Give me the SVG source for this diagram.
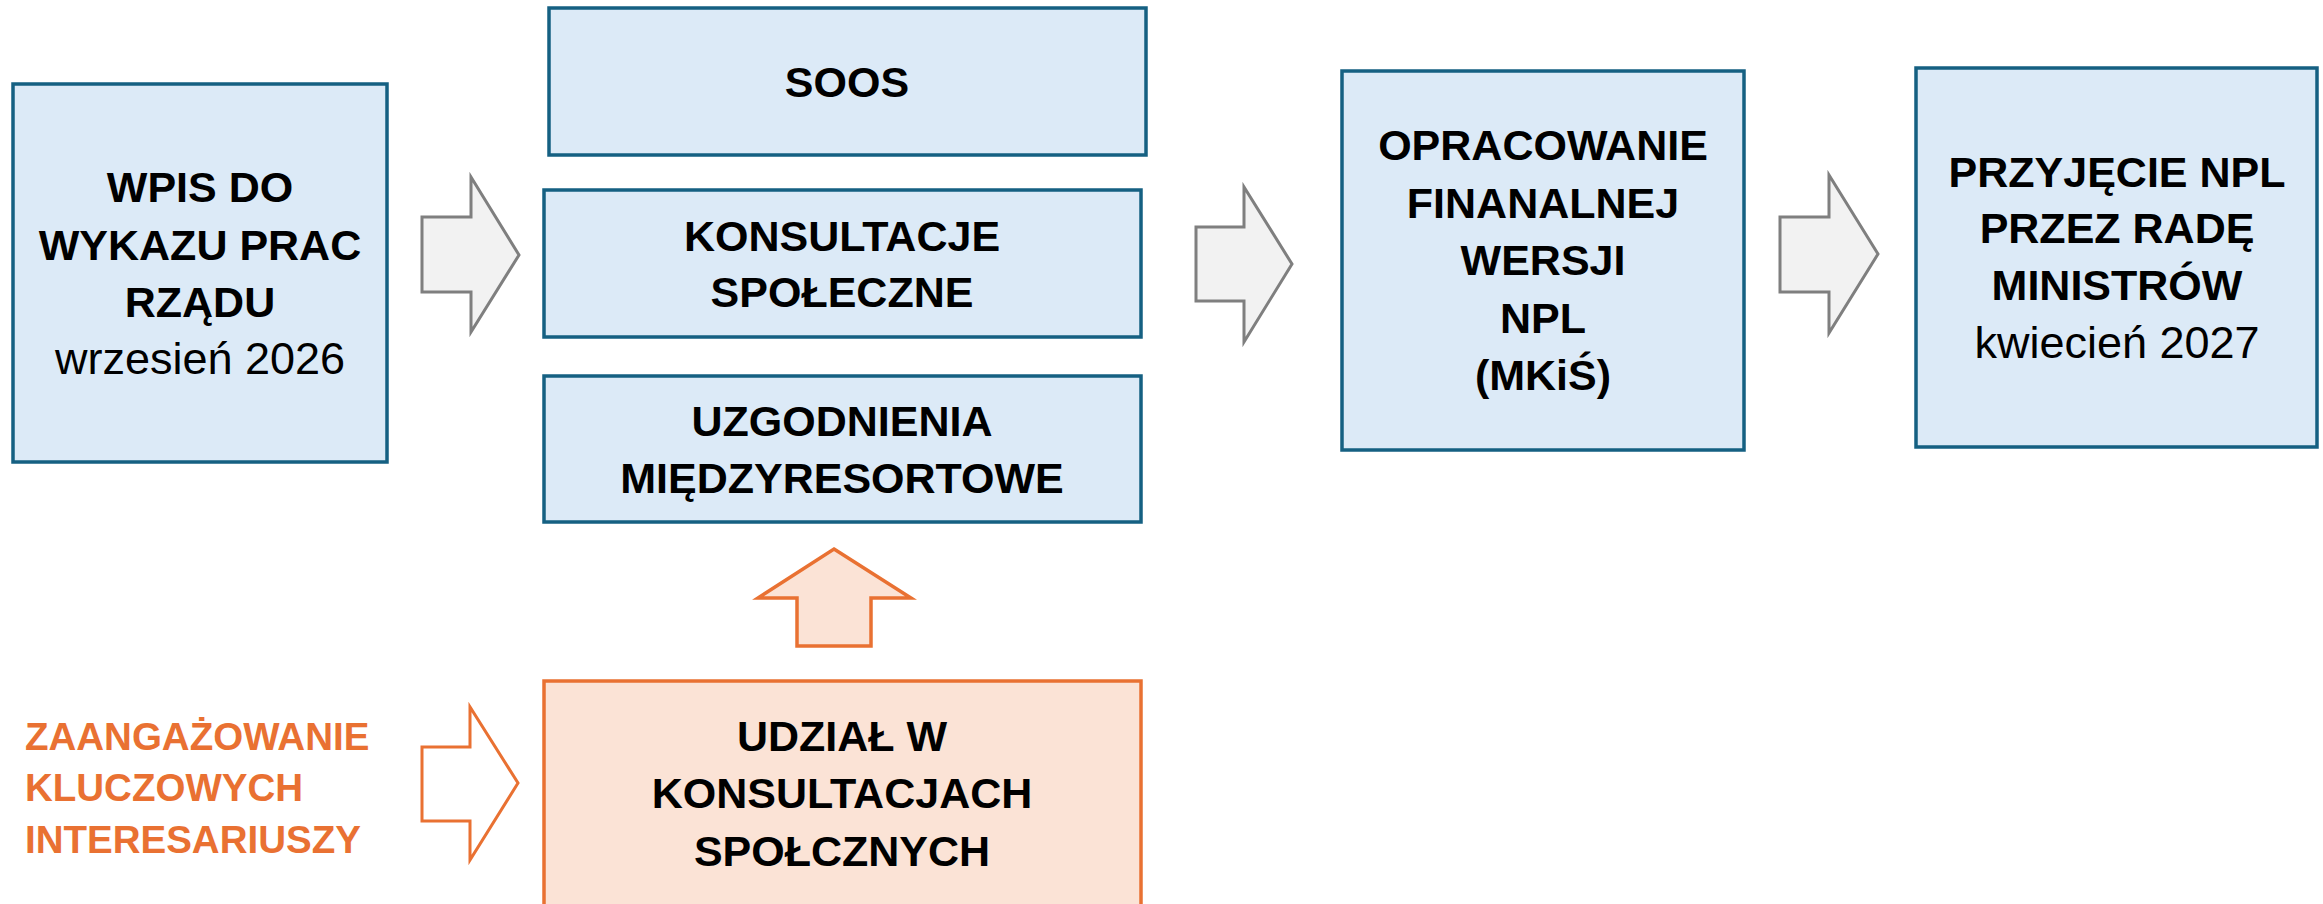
<svg xmlns="http://www.w3.org/2000/svg" width="2323" height="904" viewBox="0 0 2323 904">
<style>
.box{fill:#DCEAF7;stroke:#156082;stroke-width:3.5}
.obox{fill:#FBE3D6;stroke:#E97132;stroke-width:3.5}
.garr{fill:#F2F2F2;stroke:#7F7F7F;stroke-width:3}
.oarr{fill:#FBE3D6;stroke:#E97132;stroke-width:3.5}
.oarrw{fill:#FFFFFF;stroke:#E97132;stroke-width:3}
text{font-family:"Liberation Sans",Arial,sans-serif;fill:#000000}
.b{font-weight:bold;font-size:43px;text-anchor:middle}
.r{font-weight:normal;font-size:45px;text-anchor:middle}
.o{font-weight:bold;font-size:38.5px;fill:#E97132}
</style>
<rect width="2323" height="904" fill="#FFFFFF"/>
<g id="connectors">
<polygon class="garr" points="422,217 471,217 471,177 519,255 471,332 471,292 422,292"/>
<polygon class="garr" points="1196,227 1244,227 1244,187 1292,264 1244,342 1244,301 1196,301"/>
<polygon class="garr" points="1780,217 1829,217 1829,175 1878,254 1829,333 1829,292 1780,292"/>
<polygon class="oarr" points="834,549 911,598 871,598 871,646 797,646 797,598 758,598"/>
<polygon class="oarrw" points="422,747 470,747 470,707 518,783 470,860 470,821 422,821"/>
</g>
<g id="wpis">
<rect class="box" x="13" y="84" width="374" height="378"/>
<text class="b" x="200" y="202">WPIS DO</text>
<text class="b" x="200" y="260">WYKAZU PRAC</text>
<text class="b" x="200" y="317">RZĄDU</text>
<text class="r" x="200" y="374">wrzesień 2026</text>
</g>
<g id="soos">
<rect class="box" x="549" y="8" width="597" height="147"/>
<text class="b" x="847" y="97">SOOS</text>
</g>
<g id="konsultacje">
<rect class="box" x="544" y="190" width="597" height="147"/>
<text class="b" x="842" y="251">KONSULTACJE</text>
<text class="b" x="842" y="307">SPOŁECZNE</text>
</g>
<g id="uzgodnienia">
<rect class="box" x="544" y="376" width="597" height="146"/>
<text class="b" x="842" y="436">UZGODNIENIA</text>
<text class="b" x="842" y="493">MIĘDZYRESORTOWE</text>
</g>
<g id="opracowanie">
<rect class="box" x="1342" y="71" width="402" height="379"/>
<text class="b" x="1543" y="160">OPRACOWANIE</text>
<text class="b" x="1543" y="218">FINANALNEJ</text>
<text class="b" x="1543" y="275">WERSJI</text>
<text class="b" x="1543" y="333">NPL</text>
<text class="b" x="1543" y="390">(MKiŚ)</text>
</g>
<g id="przyjecie">
<rect class="box" x="1916" y="68" width="401" height="379"/>
<text class="b" x="2117" y="187">PRZYJĘCIE NPL</text>
<text class="b" x="2117" y="243">PRZEZ RADĘ</text>
<text class="b" x="2117" y="300">MINISTRÓW</text>
<text class="r" x="2117" y="358">kwiecień 2027</text>
</g>
<g id="udzial">
<rect class="obox" x="544" y="681" width="597" height="240"/>
<text class="b" x="842" y="751">UDZIAŁ W</text>
<text class="b" x="842" y="808">KONSULTACJACH</text>
<text class="b" x="842" y="866">SPOŁCZNYCH</text>
</g>
<g id="zaangazowanie">
<text class="o" x="25" y="750">ZAANGAŻOWANIE</text>
<text class="o" x="25" y="801">KLUCZOWYCH</text>
<text class="o" x="25" y="853">INTERESARIUSZY</text>
</g>
</svg>
